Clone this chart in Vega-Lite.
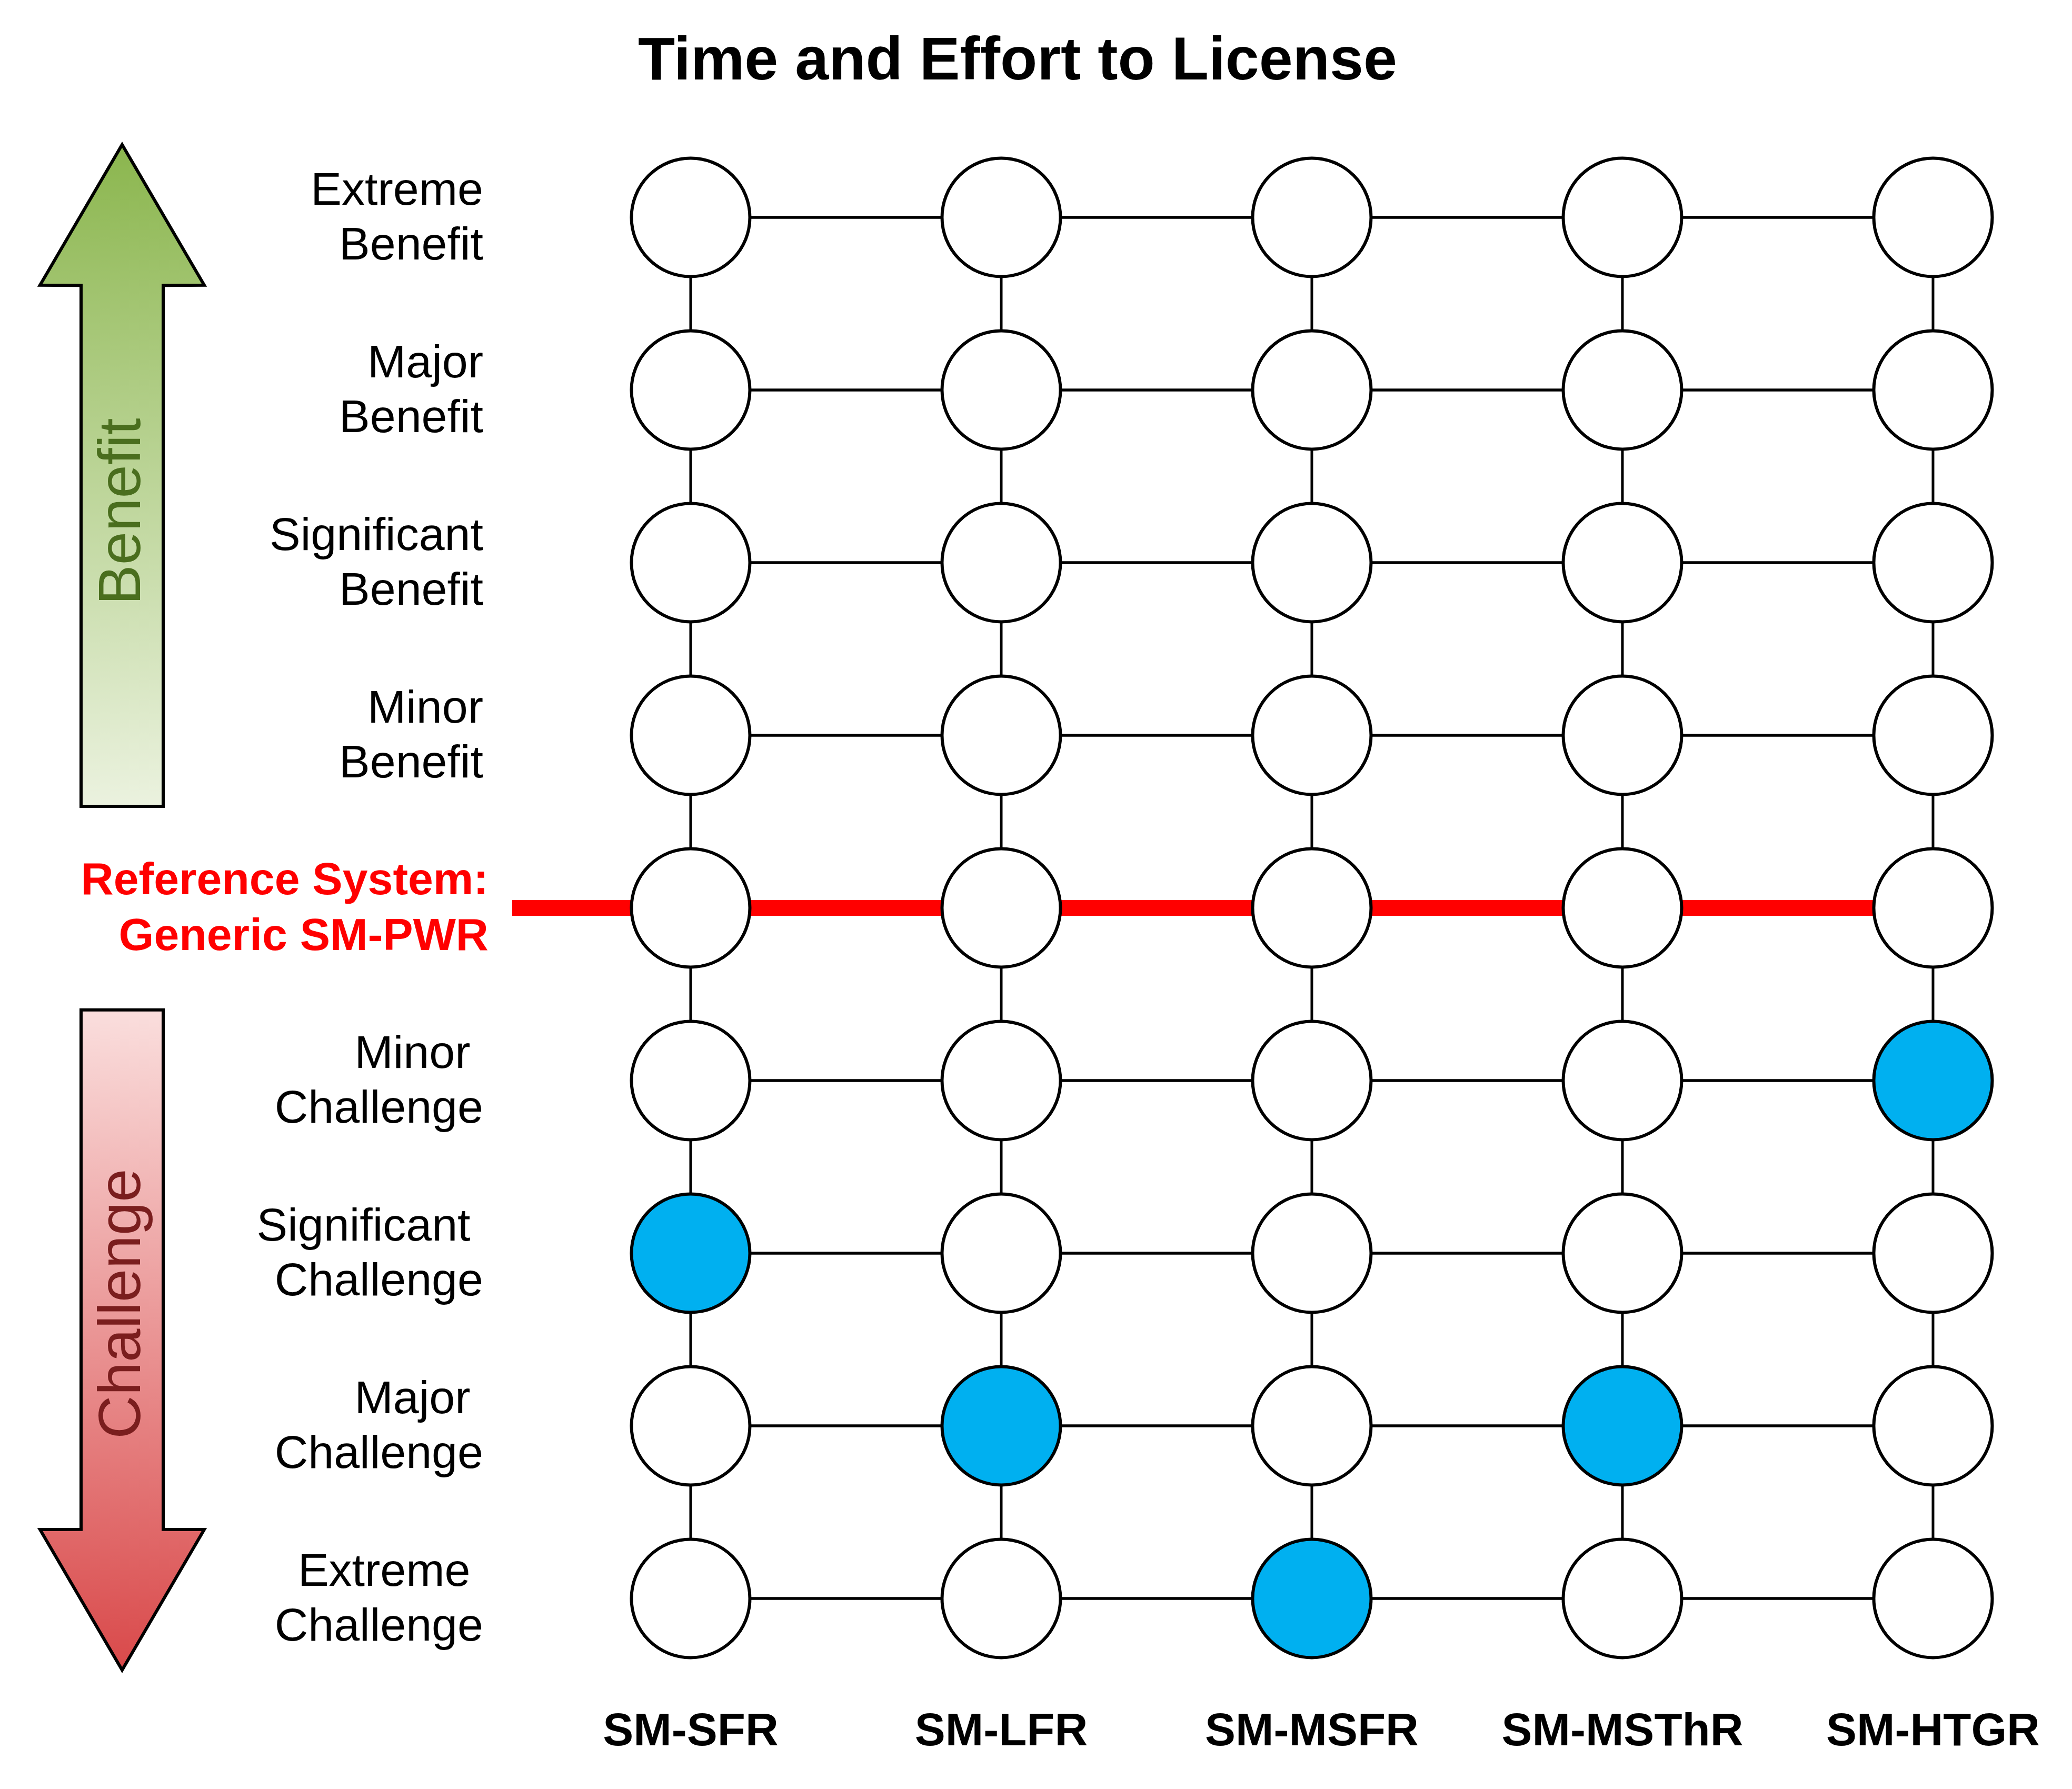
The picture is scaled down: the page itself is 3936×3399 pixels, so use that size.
{
  "$schema": "https://vega.github.io/schema/vega-lite/v6.json",
  "width": 3936,
  "height": 3399,
  "padding": 0,
  "autosize": {"type": "fit", "contains": "padding"},
  "background": "white",
  "config": {"view": {"stroke": null}},
  "datasets": {
    "nodes": [
      {"design": "SM-SFR", "col": 1, "level": 4, "rated": "no"},
      {"design": "SM-SFR", "col": 1, "level": 3, "rated": "no"},
      {"design": "SM-SFR", "col": 1, "level": 2, "rated": "no"},
      {"design": "SM-SFR", "col": 1, "level": 1, "rated": "no"},
      {"design": "SM-SFR", "col": 1, "level": 0, "rated": "no"},
      {"design": "SM-SFR", "col": 1, "level": -1, "rated": "no"},
      {"design": "SM-SFR", "col": 1, "level": -2, "rated": "yes"},
      {"design": "SM-SFR", "col": 1, "level": -3, "rated": "no"},
      {"design": "SM-SFR", "col": 1, "level": -4, "rated": "no"},
      {"design": "SM-LFR", "col": 2, "level": 4, "rated": "no"},
      {"design": "SM-LFR", "col": 2, "level": 3, "rated": "no"},
      {"design": "SM-LFR", "col": 2, "level": 2, "rated": "no"},
      {"design": "SM-LFR", "col": 2, "level": 1, "rated": "no"},
      {"design": "SM-LFR", "col": 2, "level": 0, "rated": "no"},
      {"design": "SM-LFR", "col": 2, "level": -1, "rated": "no"},
      {"design": "SM-LFR", "col": 2, "level": -2, "rated": "no"},
      {"design": "SM-LFR", "col": 2, "level": -3, "rated": "yes"},
      {"design": "SM-LFR", "col": 2, "level": -4, "rated": "no"},
      {"design": "SM-MSFR", "col": 3, "level": 4, "rated": "no"},
      {"design": "SM-MSFR", "col": 3, "level": 3, "rated": "no"},
      {"design": "SM-MSFR", "col": 3, "level": 2, "rated": "no"},
      {"design": "SM-MSFR", "col": 3, "level": 1, "rated": "no"},
      {"design": "SM-MSFR", "col": 3, "level": 0, "rated": "no"},
      {"design": "SM-MSFR", "col": 3, "level": -1, "rated": "no"},
      {"design": "SM-MSFR", "col": 3, "level": -2, "rated": "no"},
      {"design": "SM-MSFR", "col": 3, "level": -3, "rated": "no"},
      {"design": "SM-MSFR", "col": 3, "level": -4, "rated": "yes"},
      {"design": "SM-MSThR", "col": 4, "level": 4, "rated": "no"},
      {"design": "SM-MSThR", "col": 4, "level": 3, "rated": "no"},
      {"design": "SM-MSThR", "col": 4, "level": 2, "rated": "no"},
      {"design": "SM-MSThR", "col": 4, "level": 1, "rated": "no"},
      {"design": "SM-MSThR", "col": 4, "level": 0, "rated": "no"},
      {"design": "SM-MSThR", "col": 4, "level": -1, "rated": "no"},
      {"design": "SM-MSThR", "col": 4, "level": -2, "rated": "no"},
      {"design": "SM-MSThR", "col": 4, "level": -3, "rated": "yes"},
      {"design": "SM-MSThR", "col": 4, "level": -4, "rated": "no"},
      {"design": "SM-HTGR", "col": 5, "level": 4, "rated": "no"},
      {"design": "SM-HTGR", "col": 5, "level": 3, "rated": "no"},
      {"design": "SM-HTGR", "col": 5, "level": 2, "rated": "no"},
      {"design": "SM-HTGR", "col": 5, "level": 1, "rated": "no"},
      {"design": "SM-HTGR", "col": 5, "level": 0, "rated": "no"},
      {"design": "SM-HTGR", "col": 5, "level": -1, "rated": "yes"},
      {"design": "SM-HTGR", "col": 5, "level": -2, "rated": "no"},
      {"design": "SM-HTGR", "col": 5, "level": -3, "rated": "no"},
      {"design": "SM-HTGR", "col": 5, "level": -4, "rated": "no"}
    ],
    "hlines": [
      {"level": 4, "col": 1, "col2": 5},
      {"level": 3, "col": 1, "col2": 5},
      {"level": 2, "col": 1, "col2": 5},
      {"level": 1, "col": 1, "col2": 5},
      {"level": -1, "col": 1, "col2": 5},
      {"level": -2, "col": 1, "col2": 5},
      {"level": -3, "col": 1, "col2": 5},
      {"level": -4, "col": 1, "col2": 5}
    ],
    "vlines": [
      {"col": 1, "level": 4, "level2": -4},
      {"col": 2, "level": 4, "level2": -4},
      {"col": 3, "level": 4, "level2": -4},
      {"col": 4, "level": 4, "level2": -4},
      {"col": 5, "level": 4, "level2": -4}
    ],
    "refline": [
      {"level": 0, "col": 0.4254, "col2": 5}
    ],
    "rowlabels": [
      {"label": "Extreme\nBenefit", "col": 0.3322, "level": 4},
      {"label": "Major\nBenefit", "col": 0.3322, "level": 3},
      {"label": "Significant\nBenefit", "col": 0.3322, "level": 2},
      {"label": "Minor\nBenefit", "col": 0.3322, "level": 1},
      {"label": "Minor\u00a0\u200b\nChallenge", "col": 0.3322, "level": -1},
      {"label": "Significant\u00a0\u200b\nChallenge", "col": 0.3322, "level": -2},
      {"label": "Major\u00a0\u200b\nChallenge", "col": 0.3322, "level": -3},
      {"label": "Extreme\u00a0\u200b\nChallenge", "col": 0.3322, "level": -4}
    ],
    "reflabel": [
      {"label": "Reference System:\nGeneric SM-PWR", "col": 0.3322, "level": 0}
    ],
    "collabels": [
      {"design": "SM-SFR", "col": 1, "level": -4.771},
      {"design": "SM-LFR", "col": 2, "level": -4.771},
      {"design": "SM-MSFR", "col": 3, "level": -4.771},
      {"design": "SM-MSThR", "col": 4, "level": -4.771},
      {"design": "SM-HTGR", "col": 5, "level": -4.771}
    ],
    "title": [
      {"label": "Time and Effort to License", "col": 2.0525, "level": 4.905}
    ],
    "benefitArrow": [
      {"level": 0.588, "col": -0.9627, "col2": -0.6983},
      {"level": 3.606, "col": -0.9627, "col2": -0.6983},
      {"level": 3.607, "col": -1.0949, "col2": -0.5661},
      {"level": 4.421, "col": -0.8305, "col2": -0.8305}
    ],
    "challengeArrow": [
      {"level": -4.415, "col": -0.8305, "col2": -0.8305},
      {"level": -3.601, "col": -1.0949, "col2": -0.5661},
      {"level": -3.6, "col": -0.9627, "col2": -0.6983},
      {"level": -0.591, "col": -0.9627, "col2": -0.6983}
    ],
    "arrowText": [
      {"label": "Benefit", "col": -0.8305, "level": 2.296, "kind": "benefit"},
      {"label": "Challenge", "col": -0.8305, "level": -2.293, "kind": "challenge"}
    ]
  },
  "encoding": {
    "x": {"field": "col", "type": "quantitative", "axis": null, "scale": {"domain": [-1.2237, 5.4475], "nice": false, "zero": false}},
    "y": {"field": "level", "type": "quantitative", "axis": null, "scale": {"domain": [-5.104, 5.259], "nice": false, "zero": false}}
  },
  "layer": [
    {
      "data": {"name": "benefitArrow"},
      "mark": {
        "type": "area",
        "orient": "horizontal",
        "stroke": "black",
        "strokeWidth": 6,
        "strokeJoin": "miter",
        "fillOpacity": 1,
        "fill": {"gradient": "linear", "x1": 0, "y1": 0, "x2": 0, "y2": 1, "stops": [{"offset": 0, "color": "#8BB64E"}, {"offset": 1, "color": "#EBF2DF"}]}
      },
      "encoding": {"x2": {"field": "col2"}}
    },
    {
      "data": {"name": "challengeArrow"},
      "mark": {
        "type": "area",
        "orient": "horizontal",
        "stroke": "black",
        "strokeWidth": 6,
        "strokeJoin": "miter",
        "fillOpacity": 1,
        "fill": {"gradient": "linear", "x1": 0, "y1": 0, "x2": 0, "y2": 1, "stops": [{"offset": 0, "color": "#FADEDD"}, {"offset": 1, "color": "#D9494A"}]}
      },
      "encoding": {"x2": {"field": "col2"}}
    },
    {
      "data": {"name": "arrowText"},
      "mark": {"type": "text", "angle": 270, "align": "center", "baseline": "middle", "font": "Liberation Sans", "fontSize": 114},
      "encoding": {
        "text": {"field": "label"},
        "color": {"field": "kind", "type": "nominal", "legend": null, "scale": {"domain": ["benefit", "challenge"], "range": ["#4A6E1E", "#7A1E1E"]}}
      }
    },
    {
      "data": {"name": "hlines"},
      "mark": {"type": "rule", "color": "black", "strokeWidth": 5.5},
      "encoding": {"x2": {"field": "col2"}}
    },
    {
      "data": {"name": "vlines"},
      "mark": {"type": "rule", "color": "black", "strokeWidth": 5},
      "encoding": {"y2": {"field": "level2"}}
    },
    {
      "data": {"name": "refline"},
      "mark": {"type": "rule", "color": "#FF0000", "strokeWidth": 30, "strokeCap": "butt"},
      "encoding": {"x2": {"field": "col2"}}
    },
    {
      "data": {"name": "nodes"},
      "mark": {"type": "point", "shape": "circle", "filled": true, "size": 50625, "stroke": "black", "strokeWidth": 6, "opacity": 1, "fillOpacity": 1, "strokeOpacity": 1},
      "encoding": {
        "fill": {"field": "rated", "type": "nominal", "legend": null, "scale": {"domain": ["no", "yes"], "range": ["#FFFFFF", "#00B0F0"]}}
      }
    },
    {
      "data": {"name": "rowlabels"},
      "mark": {"type": "text", "align": "right", "baseline": "middle", "lineBreak": "\n", "lineHeight": 104, "dy": -50, "font": "Liberation Sans", "fontSize": 88, "color": "black"},
      "encoding": {"text": {"field": "label"}}
    },
    {
      "data": {"name": "reflabel"},
      "mark": {"type": "text", "align": "right", "baseline": "middle", "lineBreak": "\n", "lineHeight": 106, "dy": -52, "dx": 10, "font": "Liberation Sans", "fontSize": 86, "fontWeight": "bold", "color": "#FF0000"},
      "encoding": {"text": {"field": "label"}}
    },
    {
      "data": {"name": "collabels"},
      "mark": {"type": "text", "align": "center", "baseline": "middle", "font": "Liberation Sans", "fontSize": 87, "fontWeight": "bold", "color": "black"},
      "encoding": {"text": {"field": "design"}}
    },
    {
      "data": {"name": "title"},
      "mark": {"type": "text", "align": "center", "baseline": "middle", "font": "Liberation Sans", "fontSize": 115, "fontWeight": "bold", "color": "black"},
      "encoding": {"text": {"field": "label"}}
    }
  ]
}
